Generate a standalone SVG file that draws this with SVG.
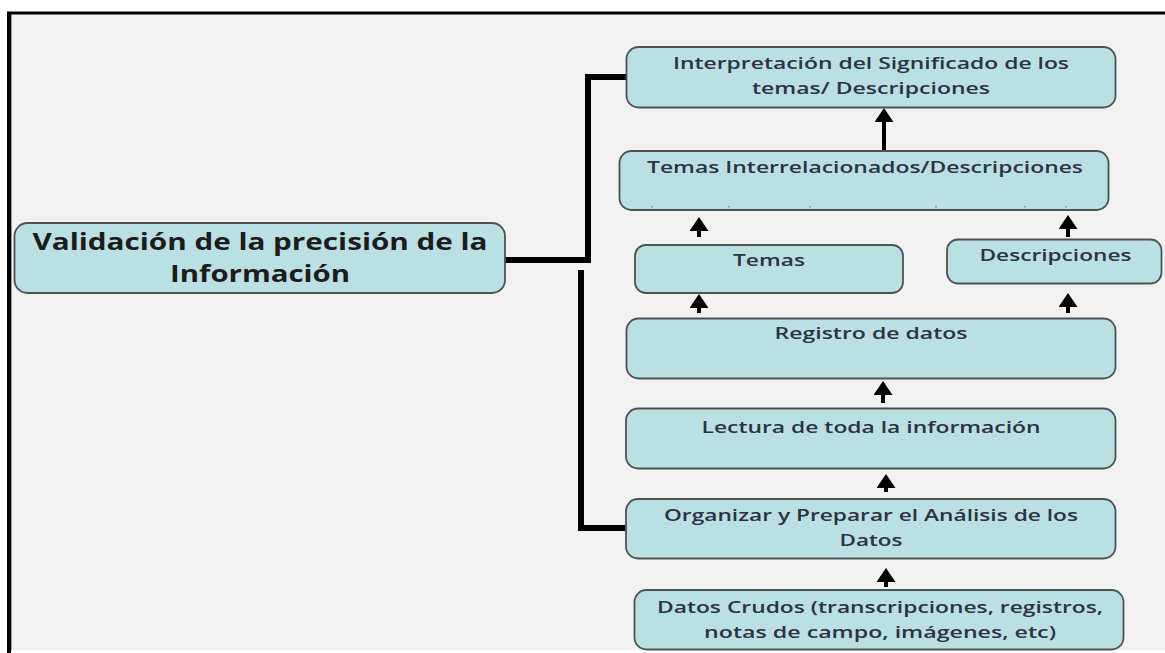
<svg xmlns="http://www.w3.org/2000/svg" width="1165" height="653" viewBox="0 0 1165 653">
<style>
.box{fill:#bae0e3;stroke:#4d5355;stroke-width:1.8}
.lbl{font-family:"Open Sans","Liberation Sans",sans-serif;font-size:16.5px;font-weight:600;fill:#2c3342;text-anchor:middle}
.ttl{font-family:"Open Sans","Liberation Sans",sans-serif;font-size:23px;font-weight:700;fill:#1c1c1c;text-anchor:middle}
.bracket{fill:none;stroke:#000;stroke-width:6;stroke-linejoin:miter}
.arr{stroke:#000;stroke-width:4;fill:none;marker-end:url(#ah)}
.speck{fill:#8a9a9c}
</style>
<defs>
<marker id="ah" markerUnits="userSpaceOnUse" markerWidth="14" markerHeight="19" viewBox="0 0 14 19" refX="5" refY="9.5" orient="auto">
<path d="M0,0 L14,9.5 L0,19 Z" fill="#000"/>
</marker>
</defs>
<rect x="0" y="0" width="1165" height="653" fill="#ffffff"/>
<rect x="9" y="13" width="1156" height="637" fill="#f2f2f2"/>
<line x1="7" y1="13" x2="1165" y2="13" stroke="#000" stroke-width="3"/>
<line x1="9" y1="12" x2="9" y2="653" stroke="#000" stroke-width="4"/>
<line x1="11.5" y1="15" x2="11.5" y2="650" stroke="#9a9a9a" stroke-width="1"/>

<g id="connectors">
<path class="bracket" d="M505 260 H588 V77 H626"/>
<path class="bracket" d="M581 270 V528 H626"/>
<line class="arr" x1="884" y1="151" x2="884" y2="117"/>
<line class="arr" x1="699" y1="237" x2="699" y2="226"/>
<line class="arr" x1="1068" y1="237" x2="1068" y2="224"/>
<line class="arr" x1="699" y1="313" x2="699" y2="303"/>
<line class="arr" x1="1068" y1="313" x2="1068" y2="302"/>
<line class="arr" x1="883" y1="403" x2="883" y2="390"/>
<line class="arr" x1="886" y1="492" x2="886" y2="483"/>
<line class="arr" x1="886" y1="587" x2="886" y2="577"/>
</g>

<g id="node-validacion">
<rect class="box" x="14.5" y="223" width="490.5" height="70" rx="13"/>
<text class="ttl" x="260" y="249.5" textLength="455" lengthAdjust="spacingAndGlyphs">Validación de la precisión de la</text>
<text class="ttl" x="260" y="281.5" textLength="180" lengthAdjust="spacingAndGlyphs">Información</text>
</g>

<g id="node-interpretacion">
<rect class="box" x="626.5" y="47" width="489" height="60.5" rx="12"/>
<text class="lbl" x="871" y="69" textLength="396" lengthAdjust="spacingAndGlyphs">Interpretación del Significado de los</text>
<text class="lbl" x="871" y="94" textLength="238" lengthAdjust="spacingAndGlyphs">temas/ Descripciones</text>
</g>

<g id="node-interrelacionados">
<rect class="box" x="619.5" y="151" width="489" height="59" rx="12"/>
<text class="lbl" x="865" y="172.5" textLength="436" lengthAdjust="spacingAndGlyphs">Temas Interrelacionados/Descripciones</text>
<rect class="speck" x="651" y="206" width="2" height="1.5"/>
<rect class="speck" x="728" y="206" width="2" height="1.5"/>
<rect class="speck" x="809" y="206" width="2" height="1.5"/>
<rect class="speck" x="935" y="206" width="2" height="1.5"/>
<rect class="speck" x="1024" y="206" width="2" height="1.5"/>
<rect class="speck" x="1065" y="206" width="2" height="1.5"/>
</g>

<g id="node-temas">
<rect class="box" x="635" y="245" width="268" height="48" rx="11"/>
<text class="lbl" x="769" y="266" textLength="72" lengthAdjust="spacingAndGlyphs">Temas</text>
</g>

<g id="node-descripciones">
<rect class="box" x="947" y="239.5" width="214.5" height="44" rx="11"/>
<text class="lbl" x="1055.5" y="261" textLength="152" lengthAdjust="spacingAndGlyphs">Descripciones</text>
</g>

<g id="node-registro">
<rect class="box" x="626.5" y="318.5" width="489" height="60" rx="12"/>
<text class="lbl" x="871" y="339" textLength="193" lengthAdjust="spacingAndGlyphs">Registro de datos</text>
</g>

<g id="node-lectura">
<rect class="box" x="626" y="408.5" width="489.5" height="60" rx="12"/>
<text class="lbl" x="871" y="432.5" textLength="339" lengthAdjust="spacingAndGlyphs">Lectura de toda la información</text>
</g>

<g id="node-organizar">
<rect class="box" x="626" y="499" width="489.5" height="59.5" rx="12"/>
<text class="lbl" x="871" y="521" textLength="414" lengthAdjust="spacingAndGlyphs">Organizar y Preparar el Análisis de los</text>
<text class="lbl" x="871" y="545.5" textLength="63" lengthAdjust="spacingAndGlyphs">Datos</text>
</g>

<g id="node-datos-crudos">
<rect class="box" x="634.5" y="590" width="489" height="59.5" rx="12"/>
<text class="lbl" x="880" y="612.5" textLength="446" lengthAdjust="spacingAndGlyphs">Datos Crudos (transcripciones, registros,</text>
<text class="lbl" x="880" y="637.5" textLength="352" lengthAdjust="spacingAndGlyphs">notas de campo, imágenes, etc)</text>
</g>
</svg>
